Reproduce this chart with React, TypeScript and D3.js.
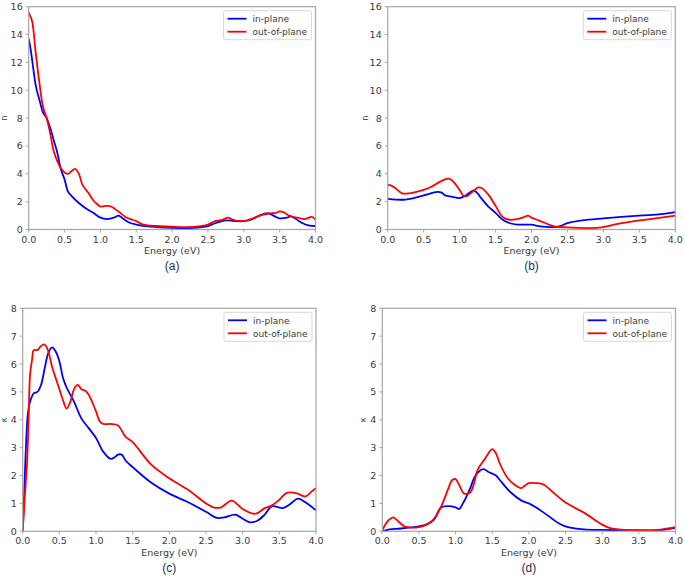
import React from "react";
import * as d3 from "d3";

type Pt = [number, number];

// Panel (a): refractive index n
const aInPlane: Pt[] = [[0,13.7],[0.025,13.0],[0.05,12.1],[0.1,10.3],[0.15,9.3],[0.2,8.4],[0.25,8.0],[0.3,7.3],[0.35,6.4],[0.4,5.5],[0.45,4.3],[0.5,3.6],[0.55,2.7],[0.6,2.4],[0.7,1.9],[0.8,1.5],[0.9,1.2],[1.0,0.85],[1.1,0.75],[1.2,0.88],[1.25,1.0],[1.3,0.85],[1.4,0.5],[1.5,0.35],[1.7,0.2],[2.0,0.12],[2.3,0.12],[2.5,0.25],[2.6,0.45],[2.75,0.65],[2.8,0.65],[2.9,0.6],[3.0,0.6],[3.1,0.7],[3.2,0.95],[3.3,1.15],[3.35,1.15],[3.45,0.9],[3.5,0.8],[3.6,0.85],[3.65,0.95],[3.7,0.85],[3.8,0.5],[3.9,0.3],[4.0,0.25]];
const aOutPlane: Pt[] = [[0,15.6],[0.025,15.3],[0.05,14.9],[0.1,12.6],[0.15,10.5],[0.2,8.8],[0.25,8.0],[0.3,6.9],[0.35,5.6],[0.4,4.9],[0.45,4.4],[0.5,4.1],[0.55,4.0],[0.6,4.2],[0.65,4.35],[0.7,4.0],[0.75,3.2],[0.8,2.85],[0.85,2.5],[0.9,2.1],[0.95,1.85],[1.0,1.65],[1.1,1.7],[1.15,1.65],[1.25,1.3],[1.35,0.9],[1.45,0.7],[1.5,0.6],[1.6,0.35],[1.8,0.25],[2.0,0.2],[2.2,0.17],[2.4,0.25],[2.5,0.35],[2.6,0.6],[2.7,0.7],[2.78,0.85],[2.85,0.7],[2.95,0.6],[3.05,0.65],[3.15,0.85],[3.25,1.05],[3.35,1.15],[3.45,1.2],[3.5,1.3],[3.55,1.25],[3.65,0.95],[3.75,0.85],[3.85,0.75],[3.95,0.9],[4.0,0.7]];

// Panel (b): refractive index n
const bInPlane: Pt[] = [[0,2.2],[0.25,2.15],[0.5,2.45],[0.6,2.6],[0.7,2.7],[0.75,2.65],[0.8,2.45],[0.9,2.35],[1.0,2.25],[1.1,2.5],[1.2,2.8],[1.25,2.6],[1.3,2.25],[1.4,1.65],[1.5,1.2],[1.6,0.7],[1.7,0.45],[1.8,0.35],[2.0,0.35],[2.1,0.25],[2.3,0.17],[2.4,0.25],[2.5,0.45],[2.7,0.65],[3.0,0.8],[3.5,1.0],[3.8,1.1],[4.0,1.25]];
const bOutPlane: Pt[] = [[0,3.2],[0.05,3.15],[0.1,3.0],[0.2,2.6],[0.3,2.6],[0.5,2.85],[0.6,3.05],[0.7,3.35],[0.8,3.6],[0.85,3.65],[0.9,3.5],[1.0,2.85],[1.05,2.45],[1.1,2.4],[1.2,2.8],[1.25,3.0],[1.3,3.0],[1.4,2.5],[1.5,1.7],[1.6,0.9],[1.7,0.7],[1.8,0.75],[1.9,0.9],[1.95,1.0],[2.0,0.85],[2.1,0.65],[2.2,0.45],[2.3,0.25],[2.5,0.15],[2.8,0.1],[3.0,0.17],[3.2,0.4],[3.5,0.65],[3.8,0.85],[4.0,1.0]];

// Panel (c): extinction coefficient kappa
const cInPlane: Pt[] = [[0,0],[0.02,1.3],[0.04,2.75],[0.07,4.2],[0.1,4.65],[0.15,4.95],[0.2,5.0],[0.25,5.25],[0.3,5.85],[0.35,6.4],[0.4,6.6],[0.45,6.45],[0.5,6.1],[0.55,5.5],[0.6,5.15],[0.7,4.65],[0.8,4.05],[0.9,3.7],[1.0,3.35],[1.1,2.85],[1.2,2.6],[1.25,2.65],[1.3,2.75],[1.35,2.75],[1.4,2.55],[1.5,2.3],[1.75,1.75],[2.0,1.35],[2.25,1.05],[2.5,0.7],[2.65,0.48],[2.75,0.5],[2.9,0.6],[3.0,0.45],[3.1,0.32],[3.2,0.38],[3.3,0.6],[3.4,0.9],[3.55,0.83],[3.65,0.98],[3.75,1.17],[3.85,1.05],[4.0,0.75]];
const cOutPlane: Pt[] = [[0,0],[0.03,1.3],[0.06,2.5],[0.08,3.95],[0.1,5.6],[0.13,6.2],[0.15,6.5],[0.2,6.5],[0.25,6.65],[0.3,6.7],[0.35,6.45],[0.4,5.9],[0.45,5.5],[0.5,5.1],[0.55,4.7],[0.6,4.4],[0.65,4.65],[0.7,5.1],[0.75,5.25],[0.8,5.1],[0.85,5.05],[0.9,4.9],[1.0,4.3],[1.05,3.95],[1.1,3.85],[1.2,3.85],[1.3,3.8],[1.4,3.4],[1.5,3.2],[1.75,2.4],[2.0,1.9],[2.25,1.5],[2.5,1.0],[2.6,0.86],[2.7,0.85],[2.85,1.1],[3.0,0.8],[3.15,0.63],[3.2,0.65],[3.3,0.83],[3.4,0.93],[3.5,1.13],[3.6,1.38],[3.75,1.35],[3.85,1.25],[3.95,1.45],[4.0,1.55]];

// Panel (d): extinction coefficient kappa
const dInPlane: Pt[] = [[0,0],[0.1,0.07],[0.25,0.1],[0.5,0.18],[0.6,0.24],[0.7,0.4],[0.8,0.85],[0.9,0.9],[1.0,0.86],[1.05,0.8],[1.1,1.0],[1.2,1.55],[1.25,1.9],[1.3,2.1],[1.38,2.23],[1.45,2.13],[1.55,2.0],[1.6,1.85],[1.75,1.4],[1.9,1.1],[2.0,1.0],[2.1,0.85],[2.25,0.58],[2.4,0.3],[2.5,0.18],[2.75,0.07],[3.0,0.05],[3.5,0.03],[3.75,0.03],[4.0,0.12]];
const dOutPlane: Pt[] = [[0,0.03],[0.05,0.28],[0.1,0.43],[0.15,0.5],[0.2,0.4],[0.3,0.18],[0.4,0.13],[0.5,0.15],[0.6,0.24],[0.7,0.43],[0.8,0.87],[0.9,1.53],[0.95,1.83],[1.0,1.87],[1.05,1.65],[1.12,1.35],[1.2,1.4],[1.25,1.7],[1.3,2.2],[1.4,2.6],[1.5,2.95],[1.55,2.8],[1.6,2.45],[1.7,1.95],[1.8,1.68],[1.9,1.55],[1.95,1.65],[2.0,1.73],[2.1,1.73],[2.2,1.68],[2.35,1.35],[2.5,1.03],[2.75,0.67],[3.0,0.24],[3.1,0.12],[3.25,0.06],[3.5,0.04],[3.75,0.05],[4.0,0.15]];

const xTicks = [0, 0.5, 1.0, 1.5, 2.0, 2.5, 3.0, 3.5, 4.0];
const nTicks = [0, 2, 4, 6, 8, 10, 12, 14, 16];
const kTicks = [0, 1, 2, 3, 4, 5, 6, 7, 8];
const seriesNames = ["in-plane", "out-of-plane"];
const xLabel = "Energy (eV)";

const FONT = "DejaVu Sans, sans-serif";
const AXIS = "#a6a6a6";
const TXT = "#3a3a3a";

interface PanelProps {
  left: number; top: number; right: number; bottom: number;
  yMax: number; yTicks: number[]; yLabel: string; yLabelX: number;
  caption: string; captionY: number; xLabelY: number;
  inPlane: Pt[]; outPlane: Pt[];
}

function Panel(p: PanelProps) {
  const x = d3.scaleLinear().domain([0, 4]).range([p.left, p.right]);
  const y = d3.scaleLinear().domain([0, p.yMax]).range([p.bottom, p.top]);
  const line = d3.line<Pt>().x(d => x(d[0])).y(d => y(d[1])).curve(d3.curveCatmullRom.alpha(0.5));
  const cx = (p.left + p.right) / 2;
  const lgX = p.right - 92;
  const lgY = p.top + 4;
  return (
    <g>
      <defs>
        <clipPath id={"clip" + p.caption}>
          <rect x={p.left} y={p.top - 2} width={p.right - p.left} height={p.bottom - p.top + 2} />
        </clipPath>
      </defs>
      <g clipPath={`url(#clip${p.caption})`}>
        <path d={line(p.inPlane) || ""} fill="none" stroke="#0000ff" strokeWidth={1.8} />
        <path d={line(p.outPlane) || ""} fill="none" stroke="#ff0000" strokeWidth={1.8} />
      </g>
      <rect x={p.left} y={p.top} width={p.right - p.left} height={p.bottom - p.top} fill="none" stroke={AXIS} strokeWidth={1.2} />
      {xTicks.map(t => (
        <g key={"x" + t}>
          <line x1={x(t)} x2={x(t)} y1={p.bottom} y2={p.bottom + 3} stroke={AXIS} />
          <text x={x(t)} y={p.bottom + 13} textAnchor="middle" fontSize={9.5} fill={TXT} fontFamily={FONT}>{t.toFixed(1)}</text>
        </g>
      ))}
      {p.yTicks.map(t => (
        <g key={"y" + t}>
          <line x1={p.left - 3} x2={p.left} y1={y(t)} y2={y(t)} stroke={AXIS} />
          <text x={p.left - 6} y={y(t) + 3.5} textAnchor="end" fontSize={9.5} fill={TXT} fontFamily={FONT}>{t}</text>
        </g>
      ))}
      <text x={p.yLabelX} y={(p.top + p.bottom) / 2} transform={`rotate(-90 ${p.yLabelX} ${(p.top + p.bottom) / 2})`} textAnchor="middle" fontSize={8} fill={TXT} fontFamily={FONT}>{p.yLabel}</text>
      <text x={cx} y={p.xLabelY} textAnchor="middle" fontSize={9.5} fill={TXT} fontFamily={FONT}>{xLabel}</text>
      <text x={cx} y={p.captionY} textAnchor="middle" fontSize={12} fill="#1f2f5a" fontFamily="Liberation Sans, sans-serif">{`(${p.caption})`}</text>
      <rect x={lgX} y={lgY} width={88} height={29} rx={2} fill="white" stroke="#d9d9d9" strokeWidth={1} />
      {seriesNames.map((s, i) => (
        <g key={s}>
          <line x1={lgX + 4} x2={lgX + 23} y1={lgY + 8 + i * 13} y2={lgY + 8 + i * 13} stroke={i === 0 ? "#0000ff" : "#ff0000"} strokeWidth={1.8} />
          <text x={lgX + 29} y={lgY + 11.5 + i * 13} fontSize={9} fill={TXT} fontFamily={FONT}>{s}</text>
        </g>
      ))}
    </g>
  );
}

export default function App() {
  return (
    <svg width={685} height={576} style={{ position: "absolute", left: 0, top: 0, background: "white" }}>
      <rect x={0} y={0} width={685} height={576} fill="white" />
      <Panel left={28.7} top={6.7} right={315.5} bottom={229.5} yMax={16} yTicks={nTicks} yLabel="n" yLabelX={7}
        caption="a" captionY={270} xLabelY={254} inPlane={aInPlane} outPlane={aOutPlane} />
      <Panel left={387.7} top={6.7} right={675.3} bottom={229.5} yMax={16} yTicks={nTicks} yLabel="n" yLabelX={368}
        caption="b" captionY={270} xLabelY={254} inPlane={bInPlane} outPlane={bOutPlane} />
      <Panel left={22.7} top={308.3} right={316} bottom={531.3} yMax={8} yTicks={kTicks} yLabel="κ" yLabelX={7}
        caption="c" captionY={572} xLabelY={556} inPlane={cInPlane} outPlane={cOutPlane} />
      <Panel left={382.3} top={308.3} right={675.5} bottom={531.3} yMax={8} yTicks={kTicks} yLabel="κ" yLabelX={366}
        caption="d" captionY={572} xLabelY={556} inPlane={dInPlane} outPlane={dOutPlane} />
    </svg>
  );
}
